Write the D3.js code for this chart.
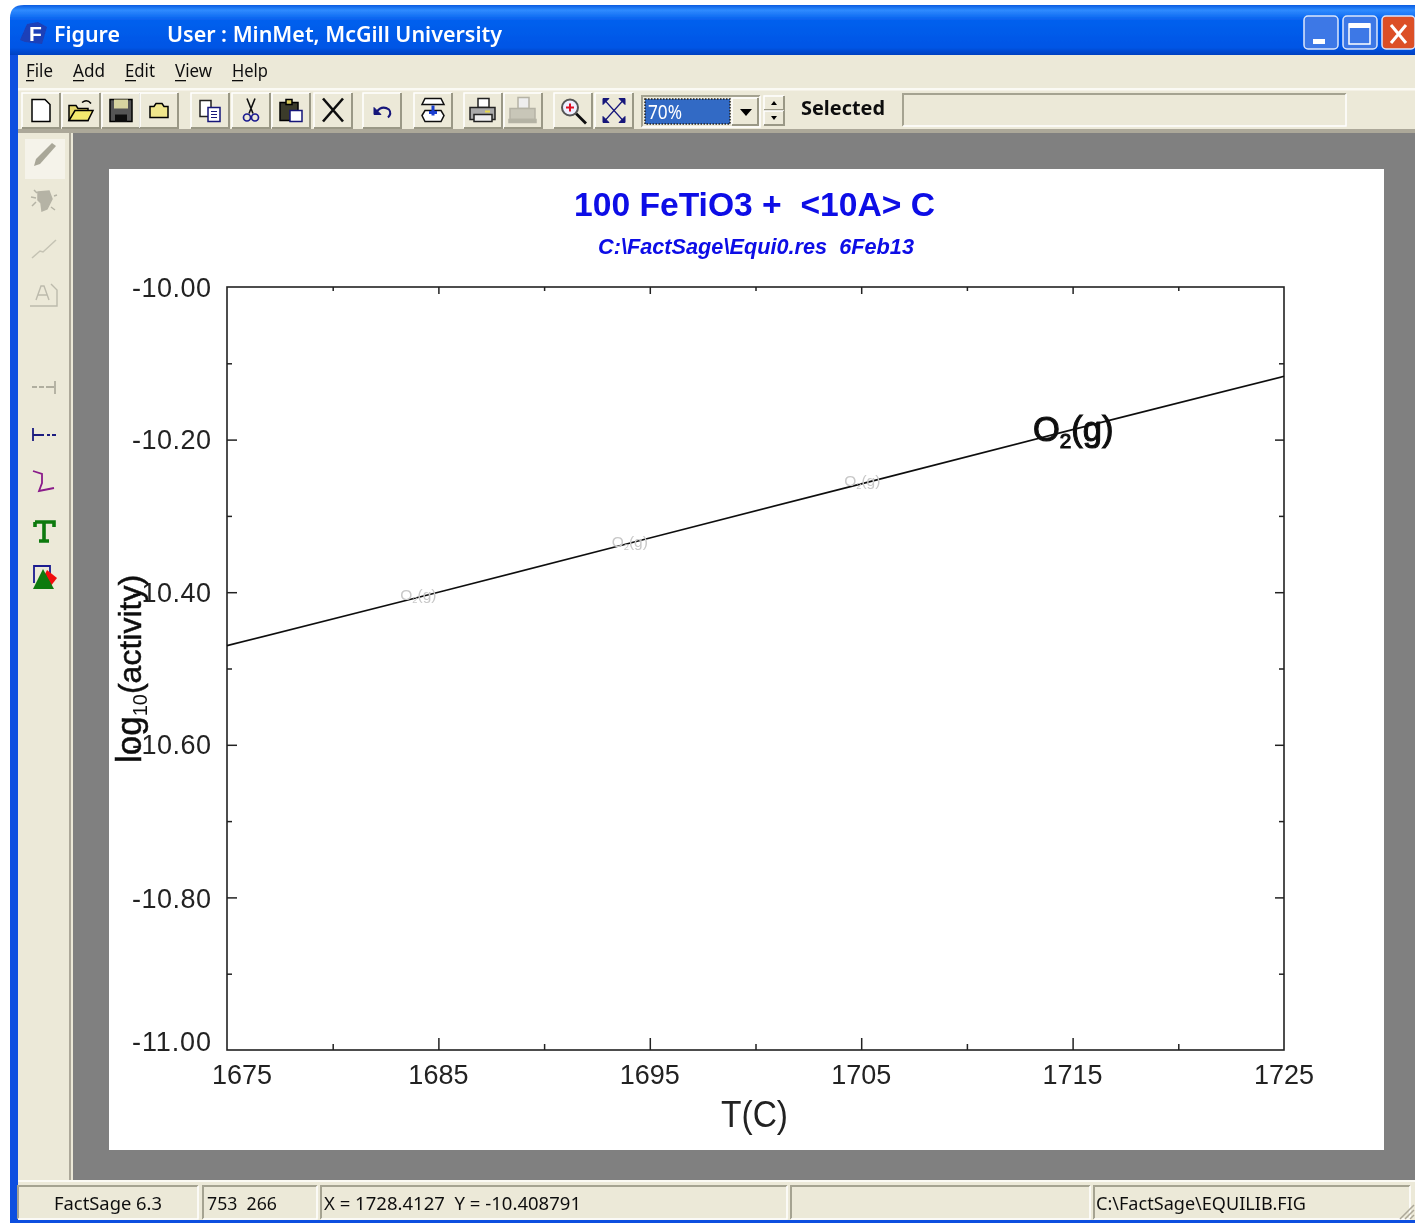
<!DOCTYPE html>
<html>
<head>
<meta charset="utf-8">
<title>Figure</title>
<script src="https://cdn.jsdelivr.net/npm/d3@7"></script>
<style>
html, body { margin: 0; padding: 0; background: #fff; overflow: hidden; }
svg { display: block; }
text { white-space: pre; }
.ui { font-family: "Noto Sans", "DejaVu Sans", sans-serif; fill: #111; }
.plot { font-family: "Liberation Sans", Arial, sans-serif; }
</style>
</head>
<body>
<svg id="chart" width="1415" height="1223"></svg>
<script>
// curve
var temps = [1675, 1685, 1695, 1705, 1715, 1725];
var logActivity = [-10.470, -10.400, -10.329, -10.258, -10.187, -10.117];

var xMajor = [1675, 1685, 1695, 1705, 1715, 1725];
var xMinor = [1680, 1690, 1700, 1710, 1720];
var yMajor = [-10, -10.2, -10.4, -10.6, -10.8, -11];
var yMinor = [-10.1, -10.3, -10.5, -10.7, -10.9];

var fadedLabelT = [1684, 1694, 1705];
var fadedLabelY = [-10.405, -10.335, -10.255];

var menuItems = ['File', 'Add', 'Edit', 'View', 'Help'];
var menuX = [26, 73, 125, 175, 232];
var menuW = [27, 32, 30, 37, 36];
var toolButtons = ['new', 'open', 'save', 'folder', 'copy', 'cut', 'paste', 'del', 'undo', 'layer', 'print', 'preview', 'zoom', 'fit'];
var toolX = [41, 81, 121, 159, 210, 251, 291, 333, 382, 433, 483, 523, 573, 614];
var sideY = [155, 201, 248, 294, 388, 435, 482, 531, 577];

var statusPanels = [[18, 180], [203, 114], [321, 466], [791, 299], [1094, 316]];
var statusTexts = ['FactSage 6.3', '753  266', 'X = 1728.4127  Y = -10.408791', 'C:\\FactSage\\EQUILIB.FIG'];
var statusTextX = [54, 207, 324, 1096];
var statusTextW = [108, 70, 257, 210];

var svg = d3.select('#chart');
var defs = svg.append('defs');
var soft = defs.append('filter').attr('id', 'soft');
soft.append('feGaussianBlur').attr('stdDeviation', 0.45);

var titleGrad = defs.append('linearGradient').attr('id', 'titlebar').attr('x1', 0).attr('x2', 0).attr('y1', 0).attr('y2', 1);
titleGrad.append('stop').attr('offset', 0).attr('stop-color', '#0a5be0');
titleGrad.append('stop').attr('offset', 0.1).attr('stop-color', '#2f8cff');
titleGrad.append('stop').attr('offset', 0.3).attr('stop-color', '#0560ee');
titleGrad.append('stop').attr('offset', 0.85).attr('stop-color', '#0055e5');
titleGrad.append('stop').attr('offset', 1).attr('stop-color', '#0040c0');

var root = svg.append('g').attr('filter', 'url(#soft)');

function rect(g, x, y, w, h, fill) {
    return g.append('rect').attr('x', x).attr('y', y).attr('width', w).attr('height', h).attr('fill', fill);
}
function fitText(g, str, x, y, w, size, cls) {
    return g.append('text').attr('class', cls || 'ui').attr('x', x).attr('y', y)
        .attr('font-size', size).attr('textLength', w).attr('lengthAdjust', 'spacingAndGlyphs').text(str);
}
function raised(g, x, y, w, h) {
    rect(g, x, y, w, h, '#ece9d8');
    g.append('path').attr('d', 'M' + x + ',' + (y + h) + 'V' + y + 'H' + (x + w)).attr('fill', 'none').attr('stroke', '#fff').attr('stroke-width', 1.5);
    g.append('path').attr('d', 'M' + (x + w) + ',' + y + 'V' + (y + h) + 'H' + x).attr('fill', 'none').attr('stroke', '#9a9886').attr('stroke-width', 2);
}
function sunken(g, x, y, w, h) {
    rect(g, x, y, w, h, '#ece9d8');
    g.append('path').attr('d', 'M' + x + ',' + (y + h) + 'V' + y + 'H' + (x + w)).attr('fill', 'none').attr('stroke', '#a5a391').attr('stroke-width', 2);
    g.append('path').attr('d', 'M' + (x + w) + ',' + y + 'V' + (y + h) + 'H' + x).attr('fill', 'none').attr('stroke', '#fff').attr('stroke-width', 1.5);
}

// window frame
var win = root.append('g');
win.append('path').attr('d', 'M10,1223V18Q10,5 24,5H1415V1223Z').attr('fill', '#0a50e0');
rect(win, 10, 5, 1405, 50, 'url(#titlebar)');
win.append('path').attr('d', 'M0,0H1415V5H24Q10,5 10,18V1223H0Z').attr('fill', '#fff');
rect(win, 18, 55, 1397, 1165, '#ece9d8');

// title bar
win.append('path').attr('d', 'M27,24L38,22L47,27L42,44L25,42L20,40Z').attr('fill', '#1a3fb8');
win.append('text').attr('x', 29).attr('y', 41).attr('font-family', 'Liberation Sans').attr('font-weight', 'bold').attr('font-size', 21).attr('fill', '#fff').text('F');
fitText(win, 'Figure', 54, 42, 66, 22).style('fill', '#fff').attr('font-weight', 600);
fitText(win, 'User : MinMet, McGill University', 167, 42, 335, 22).style('fill', '#fff').attr('font-weight', 600);

var capBtn = [[1304, '#3c78e6'], [1343, '#3c78e6'], [1382, '#dc4f28']];
capBtn.forEach(function (b) {
    win.append('rect').attr('x', b[0]).attr('y', 16).attr('width', b[0] === 1382 ? 33 : 34).attr('height', 33).attr('rx', 4)
        .attr('fill', b[1]).attr('stroke', '#dbe6fb').attr('stroke-width', 1.5);
});
rect(win, 1313, 39, 12, 5, '#fff');
win.append('rect').attr('x', 1349).attr('y', 24).attr('width', 21).attr('height', 20).attr('fill', 'none').attr('stroke', '#fff').attr('stroke-width', 1.5);
rect(win, 1349, 23, 21, 5, '#fff');
win.append('path').attr('d', 'M1391,25L1406,43M1406,25L1391,43').attr('stroke', '#fff').attr('stroke-width', 3);

// menu bar
var menu = root.append('g');
menuItems.forEach(function (m, i) {
    fitText(menu, m, menuX[i], 77, menuW[i], 18);
    var first = m === 'File' ? 8 : 11;
    rect(menu, menuX[i], 80, first, 1.3, '#111');
});

// toolbar
var tb = root.append('g');
rect(tb, 18, 88, 1397, 2.5, '#fbfaf4');
rect(tb, 18, 129, 1397, 4, '#aca899');

function drawIcon(g, name) {
    function p(d, fill, stroke, sw) {
        g.append('path').attr('d', d).attr('fill', fill || 'none').attr('stroke', stroke || '#000').attr('stroke-width', sw || 1.5);
    }
    if (name === 'new') p('M-9,-11H4L9,-6V11H-9Z', '#fff');
    if (name === 'open') { p('M-12,10V-5H-5L-3,-2H7V10Z', '#e6d86a'); p('M-12,10L-6,0H12L7,10Z', '#f4e96e'); p('M1,-8Q6,-12 10,-7', 'none', '#000', 1.5); }
    if (name === 'save') { p('M-11,-11H11V11H-11Z', '#555'); rect(g, -7, -11, 14, 9, '#d7d4a0'); rect(g, -6, 4, 12, 7, '#111'); }
    if (name === 'folder') { p('M-9,-4H-5L-3,-7H3L5,-4H9V7H-9Z', '#f0e68c'); }
    if (name === 'copy') { p('M-10,-10H1V6H-10Z', '#fff', '#222'); p('M-2,-3H10V11H-2Z', '#fff', '#14147a'); p('M1,1H7M1,4H7M1,7H7', 'none', '#14147a', 1); }
    if (name === 'cut') { p('M-4,-12L2,3M4,-12L-2,3', 'none', '#111', 1.6); g.append('circle').attr('cx', -4).attr('cy', 7).attr('r', 3.5).attr('fill', 'none').attr('stroke', '#1a1a90').attr('stroke-width', 1.7); g.append('circle').attr('cx', 4).attr('cy', 7).attr('r', 3.5).attr('fill', 'none').attr('stroke', '#1a1a90').attr('stroke-width', 1.7); }
    if (name === 'paste') { p('M-11,-8H7V10H-11Z', '#3a3a2c'); p('M-5,-11H1V-6H-5Z', '#d7c95a'); p('M-1,0H11V11H-1Z', '#fff', '#14147a'); }
    if (name === 'del') { p('M-10,-12L10,11M10,-12L-10,11', 'none', '#111', 2.6); }
    if (name === 'undo') { p('M-8,-3V4H-1Z', '#14147a', '#14147a', 1); p('M-6,2Q0,-6 7,-1Q10,3 6,7', 'none', '#14147a', 2); }
    if (name === 'layer') { p('M-8,-12H8L11,-6H-11Z', '#fff', '#111'); p('M-11,5L-8,0H8L11,5L8,11H-8Z', '#fff', '#111'); p('M0,-5V5M-4,2H4', 'none', '#1a3fd0', 3); }
    if (name === 'print') { p('M-5,-12H6V-3H-5Z', '#fff', '#222'); p('M-13,-3H12V9H-13Z', '#aaa', '#222'); p('M-9,4H9V11H-9Z', '#eee', '#222'); rect(g, 2, 0, 5, 2, '#e8d84a'); }
    if (name === 'preview') { p('M-5,-13H6V-2H-5Z', '#eee', '#b5b3a5'); p('M-13,-2H12V9H-13Z', '#c8c6b8', '#b5b3a5'); p('M-14,9H13V12H-14Z', '#b5b3a5', '#b5b3a5'); }
    if (name === 'zoom') { p('M3,3L13,13', 'none', '#111', 2.8); g.append('circle').attr('cx', -3).attr('cy', -3).attr('r', 8).attr('fill', '#eef').attr('stroke', '#555').attr('stroke-width', 2); p('M-7,-3H1M-3,-7V1', 'none', '#e01020', 2); }
    if (name === 'fit') { p('M-9,-10L9,10M9,-10L-9,10', 'none', '#14147a', 1.2); p('M-11,-12H-5L-11,-6ZM11,-12H5L11,-6ZM-11,12H-5L-11,6ZM11,12H5L11,6Z', '#14147a', '#14147a', 1); }
}
toolButtons.forEach(function (name, i) {
    var g = tb.append('g');
    raised(g, toolX[i] - 19, 93, 38, 35);
    var ic = g.append('g').attr('transform', 'translate(' + toolX[i] + ',110.5)');
    drawIcon(ic, name);
});

// zoom combo box
sunken(tb, 642, 96, 118, 31);
rect(tb, 645, 99, 85, 25, '#316ac5');
tb.append('rect').attr('x', 645).attr('y', 99).attr('width', 85).attr('height', 25).attr('fill', 'none').attr('stroke', '#222').attr('stroke-dasharray', '1.5 1.5').attr('stroke-width', 1.5);
fitText(tb, '70%', 648, 119, 34, 19).style('fill', '#fff');
raised(tb, 732, 98, 26, 27);
tb.append('path').attr('d', 'M740,109H752L746,116Z').attr('fill', '#000');
raised(tb, 764, 96, 20, 14);
raised(tb, 764, 111, 20, 14);
tb.append('path').attr('d', 'M771,105H777L774,101Z M771,116H777L774,120Z').attr('fill', '#000');
fitText(tb, 'Selected', 801, 115, 84, 19).attr('font-weight', 'bold');
sunken(tb, 903, 94, 443, 32);

// side toolbar
var side = root.append('g');
rect(side, 18, 133, 54, 1047, '#ece9d8');
rect(side, 69, 133, 2, 1047, '#aca899');
rect(side, 25, 139, 40, 40, '#f5f3ea');
var sideIcons = [
    ['M-10,11L-8,4L8,-12L12,-9L-4,9Z', '#a9a798', 'none', 1],
    ['M-6,-9L5,-10L8,-2L3,8L-2,10L-3,2L-6,-1Z M-13,-4L-8,-3M-10,-11L-7,-8M-12,5L-8,1M10,-5L13,-6M7,6L11,9', '#b5b3a5', '#b5b3a5', 1.5],
    ['M-12,10L-4,3L-1,4L12,-8', 'none', '#c5c3b4', 1.5],
    ['M-14,12H13V-4L7,-10M-8,6L-3,-8H0L5,6M-6,1H3', 'none', '#bcbaac', 1.4],
    ['M-12,-1H-7M-5,-1H0M2,-1H10M11,-7V6', 'none', '#b0ae9f', 1.8],
    ['M-11,-7V6M-11,0H0M3,0H6M8,0H12', 'none', '#1a1a80', 1.8],
    ['M-11,-11L-2,-8L-2,1L-5,9L5,7L10,6', 'none', '#8a1a8a', 1.8],
    ['M-9,-9H10V-4M-9,-9V-4M0,-9V10M-5,10H5', 'none', '#0a7a10', 3.6],
    ['M-10,6V-11H6V-3', 'none', '#1a1a90', 1.8]
];
sideIcons.forEach(function (s, i) {
    side.append('path').attr('transform', 'translate(44,' + sideY[i] + ')')
        .attr('d', s[0]).attr('fill', s[1]).attr('stroke', s[2]).attr('stroke-width', s[3]);
});
side.append('path').attr('d', 'M47,570L57,578L50,587L42,580Z').attr('fill', '#f01010');
side.append('path').attr('d', 'M33,589L43,569L54,589Z').attr('fill', '#0a7a10');

// grey work area and paper
rect(root, 73, 133, 1342, 1047, '#808080');
rect(root, 109, 169, 1275, 981, '#fff');

// status bar
var st = root.append('g');
rect(st, 18, 1180, 1397, 40, '#ece9d8');
rect(st, 18, 1180, 1397, 2, '#fbfaf4');
statusPanels.forEach(function (p) { sunken(st, p[0], 1186, p[1], 33); });
statusTexts.forEach(function (s, i) { fitText(st, s, statusTextX[i], 1210, statusTextW[i], 18); });
st.append('path').attr('d', 'M1400,1219L1414,1205M1405,1219L1414,1210M1410,1219L1414,1215').attr('stroke', '#aca899').attr('stroke-width', 1.5);
rect(st, 10, 1220, 1405, 3, '#0a50e0');

// the plot
var x = d3.scaleLinear().domain([1675, 1725]).range([227, 1284]);
var y = d3.scaleLinear().domain([-11, -10]).range([1050, 287]);
var plot = root.append('g').attr('class', 'plot');
plot.append('rect').attr('x', 227).attr('y', 287).attr('width', 1057).attr('height', 763)
    .attr('fill', 'none').attr('stroke', '#222').attr('stroke-width', 1.6);

function ticks(axisFn, scale, vals, len, pos) {
    var a = axisFn(scale).tickValues(vals).tickSize(-len).tickSizeOuter(0).tickFormat('');
    var g = plot.append('g').attr('transform', pos).call(a);
    g.select('.domain').remove();
    g.selectAll('line').attr('stroke', '#222').attr('stroke-width', 1.5);
}
ticks(d3.axisBottom, x, xMajor.slice(1, 5), 12, 'translate(0,1050)');
ticks(d3.axisBottom, x, xMinor, 6, 'translate(0,1050)');
ticks(d3.axisTop, x, xMajor.slice(1, 5), 7, 'translate(0,287)');
ticks(d3.axisTop, x, xMinor, 4, 'translate(0,287)');
ticks(d3.axisLeft, y, yMajor.slice(1, 5), 10, 'translate(227,0)');
ticks(d3.axisLeft, y, yMinor, 5, 'translate(227,0)');
ticks(d3.axisRight, y, yMajor.slice(1, 5), 9, 'translate(1284,0)');
ticks(d3.axisRight, y, yMinor, 5, 'translate(1284,0)');

plot.selectAll('.xlab').data(xMajor).enter().append('text')
    .attr('class', 'xlab')
    .attr('x', function (d) { return x(d) + (d === 1675 ? 15 : 0); })
    .attr('y', 1084).attr('text-anchor', 'middle').attr('font-size', 27).attr('fill', '#222')
    .text(function (d) { return d; });
plot.selectAll('.ylab').data(yMajor).enter().append('text')
    .attr('class', 'ylab')
    .attr('x', 132)
    .attr('y', function (d) { return y(d) + (d === -11 ? 1 : d === -10.8 ? 11 : 9.5); })
    .attr('font-size', 27).attr('fill', '#222')
    .attr('textLength', 79).attr('lengthAdjust', 'spacing')
    .text(function (d) { return d.toFixed(2); });

// curve
var line = d3.line().x(function (d) { return x(d); }).y(function (d, i) { return y(logActivity[i]); });
plot.append('path').attr('d', line(temps)).attr('fill', 'none').attr('stroke', '#111').attr('stroke-width', 1.7);

// faded series labels
function o2Label(px, py, size, color, weight) {
    var t = plot.append('text').attr('x', px).attr('y', py).attr('font-size', size).attr('fill', color).attr('stroke', weight ? color : 'none').attr('stroke-width', weight || 0);
    t.append('tspan').text('O');
    t.append('tspan').attr('font-size', size * 0.6).attr('dy', size * 0.2).text('2');
    t.append('tspan').attr('dy', -size * 0.2).text('(g)');
}
fadedLabelT.forEach(function (d, i) {
    o2Label(x(d) - 17, y(fadedLabelY[i]) + 4, 15.5, '#c8c8c8');
});
o2Label(1033, 441, 34.5, '#111', 1.1);

// titles
plot.append('text').attr('x', 574).attr('y', 216).attr('font-size', 33).attr('font-weight', 'bold').attr('fill', '#0a0ae6')
    .attr('textLength', 361).attr('lengthAdjust', 'spacingAndGlyphs').text('100 FeTiO3 +  <10A> C');
plot.append('text').attr('x', 598).attr('y', 254).attr('font-size', 22).attr('font-weight', 'bold').attr('font-style', 'italic').attr('fill', '#0a0ae6')
    .attr('textLength', 316).attr('lengthAdjust', 'spacingAndGlyphs').text('C:\\FactSage\\Equi0.res  6Feb13');
plot.append('text').attr('x', 721).attr('y', 1127).attr('font-size', 36).attr('fill', '#222')
    .attr('textLength', 67).attr('lengthAdjust', 'spacingAndGlyphs').text('T(C)');

var yLab = plot.append('text').attr('transform', 'translate(141,763) rotate(-90)').attr('fill', '#111').attr('stroke', '#111').attr('stroke-width', 0.5);
yLab.append('tspan').attr('font-size', 35).text('log');
yLab.append('tspan').attr('font-size', 20).attr('dy', 6).attr('stroke-width', 0).text('10');
yLab.append('tspan').attr('font-size', 32).attr('dy', -6).text('(activity)');
</script>
</body>
</html>
